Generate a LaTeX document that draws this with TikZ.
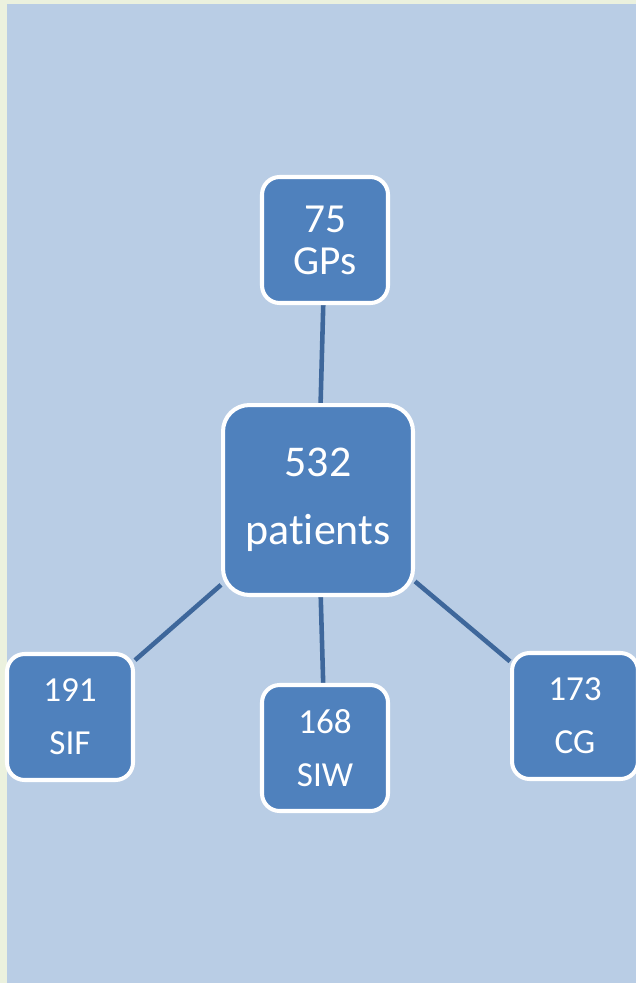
\documentclass[tikz,border=0pt]{standalone}
\usepackage{fontspec}
\setmainfont[Ligatures=NoCommon]{Carlito}
\usetikzlibrary{backgrounds}
\definecolor{panelbg}{HTML}{B9CDE5}
\definecolor{pageedge}{HTML}{EBF1DE}
\definecolor{boxfill}{HTML}{4F81BD}
\definecolor{linkcol}{HTML}{3E679B}
\begin{document}
\begin{tikzpicture}[x=0.02cm,y=-0.02cm,
    box/.style={fill=boxfill,draw=white,line width=2.3pt,rounded corners=10pt,
      text=white,align=center,inner sep=0pt,minimum width=2.52cm,minimum height=2.52cm},
    small/.style={box,font=\fontsize{20}{30}\selectfont},
    link/.style={draw=linkcol,line width=2.6pt}]
  \useasboundingbox (0,0) rectangle (636,983);
  % nodes
  \node[box,font=\fontsize{23.5}{24}\selectfont] (gps) at (325,240) {75\\GPs};
  \node[box,minimum width=3.8cm,minimum height=3.8cm,rounded corners=15pt,
    font=\fontsize{25}{39}\selectfont] (pat) at (318,500) {532\\patients};
  \node[small] (sif) at (70,717) {191\\SIF};
  \node[small] (siw) at (325,748) {168\\SIW};
  \node[small] (cg) at (575,716) {173\\CG};
  % page, panel and connectors behind the boxes
  \begin{scope}[on background layer]
    \fill[pageedge] (0,0) rectangle (636,983);
    \fill[panelbg] (7,4) rectangle (636,983);
    \draw[link] (gps) -- (pat);
    \draw[link] (pat) -- (sif);
    \draw[link] (pat) -- (siw);
    \draw[link] (pat) -- (cg);
  \end{scope}
\end{tikzpicture}
\end{document}
